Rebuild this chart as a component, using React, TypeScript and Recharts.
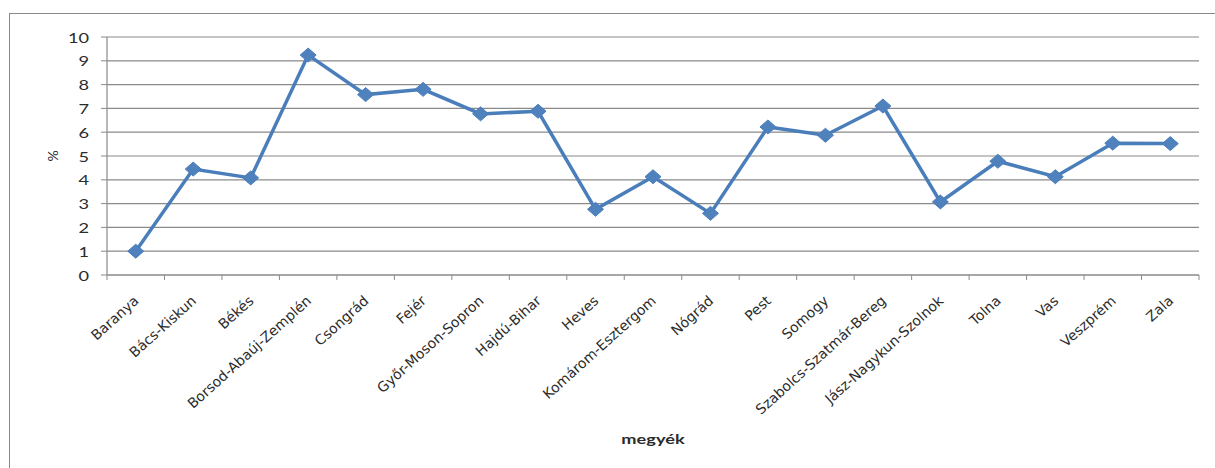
import { LineChart, Line, XAxis, YAxis, CartesianGrid } from 'recharts'

// megyék (counties) and their rate in %
const megyek = [
    'Baranya',
    'Bács-Kiskun',
    'Békés',
    'Borsod-Abaúj-Zemplén',
    'Csongrád',
    'Fejér',
    'Győr-Moson-Sopron',
    'Hajdú-Bihar',
    'Heves',
    'Komárom-Esztergom',
    'Nógrád',
    'Pest',
    'Somogy',
    'Szabolcs-Szatmár-Bereg',
    'Jász-Nagykun-Szolnok',
    'Tolna',
    'Vas',
    'Veszprém',
    'Zala'
]

const arany = [
    1.0, 4.45, 4.08, 9.24, 7.58, 7.8, 6.77, 6.88, 2.76, 4.13,
    2.59, 6.22, 5.87, 7.1, 3.07, 4.78, 4.13, 5.54, 5.52
]

const yTicks = [0, 1, 2, 3, 4, 5, 6, 7, 8, 9, 10]

const data = megyek.map((megye, i) => ({ megye, ertek: arany[i] }))

const WIDTH = 1215
const HEIGHT = 468
const Y_AXIS_W = 107
const X_AXIS_H = 193
const MARGIN = { top: 37, right: 16, bottom: 0, left: 0 }
const BAND = (WIDTH - Y_AXIS_W - MARGIN.right) / megyek.length

const GRAY = '#8a8a8a'
const BLUE = '#4a7ebb'
const TEXT = '#2b2b2b'
const FONT = 'Lato, "Open Sans", sans-serif'
const WIDE_FONT = '"DejaVu Sans", Verdana, sans-serif'
// numbers and titles are drawn slightly wider than tall
const STRETCH = 1.3

function MegyeTick({ x, y, payload, index }: any) {
    const half = BAND / 2
    const last = index === megyek.length - 1
    return (
        <g>
            <line x1={x - half} x2={x - half} y1={y} y2={y + 5} stroke={GRAY} />
            {last && <line x1={x + half} x2={x + half} y1={y} y2={y + 5} stroke={GRAY} />}
            <text
                x={0}
                y={0}
                transform={`translate(${x + 4},${y + 27}) rotate(-42)`}
                textAnchor="end"
                fontFamily={WIDE_FONT}
                fontSize={14}
                fill={TEXT}
            >
                {payload.value}
            </text>
        </g>
    )
}

function ErtekTick({ x, y, payload }: any) {
    return (
        <text
            x={0}
            y={0}
            transform={`translate(${x},${y}) scale(${STRETCH},1)`}
            textAnchor="end"
            dominantBaseline="central"
            fontFamily={FONT}
            fontSize={14}
            fill={TEXT}
        >
            {payload.value}
        </text>
    )
}

function XTitle({ viewBox }: any) {
    const { x, y, width, height } = viewBox
    return (
        <text
            x={0}
            y={0}
            transform={`translate(${x + width / 2},${y + height - 24}) scale(${STRETCH},1)`}
            textAnchor="middle"
            fontFamily={FONT}
            fontWeight={700}
            fontSize={14}
            fill={TEXT}
        >
            megyék
        </text>
    )
}

function YTitle({ viewBox }: any) {
    const { y, height } = viewBox
    return (
        <text
            x={0}
            y={0}
            transform={`translate(52,${y + height / 2}) rotate(-90)`}
            textAnchor="middle"
            dominantBaseline="central"
            fontFamily={FONT}
            fontSize={14}
            fill={TEXT}
        >
            %
        </text>
    )
}

function Diamond({ cx, cy }: any) {
    if (cx == null || cy == null) return null
    return (
        <path
            d={`M${cx},${cy - 7} L${cx + 8},${cy} L${cx},${cy + 7} L${cx - 8},${cy} Z`}
            fill="#4f81bd"
            stroke={BLUE}
            strokeWidth={1}
        />
    )
}

export default function App() {
    return (
        <div
            style={{
                position: 'absolute',
                left: 0,
                top: 0,
                width: WIDTH,
                height: HEIGHT,
                overflow: 'hidden',
                background: '#fff'
            }}
        >
            <div
                style={{
                    position: 'absolute',
                    left: 9,
                    top: 13,
                    width: WIDTH,
                    height: HEIGHT,
                    borderLeft: `1px solid ${GRAY}`,
                    borderTop: `1px solid ${GRAY}`
                }}
            />
            <LineChart
                width={WIDTH}
                height={HEIGHT}
                data={data}
                margin={MARGIN}
                style={{ position: 'absolute', left: 0, top: 0 }}
            >
                <CartesianGrid vertical={false} stroke={GRAY} strokeWidth={1.2} />
                <XAxis
                    dataKey="megye"
                    height={X_AXIS_H}
                    interval={0}
                    padding={{ left: BAND / 2, right: BAND / 2 }}
                    axisLine={{ stroke: GRAY, strokeWidth: 1.2 }}
                    tickLine={false}
                    tickSize={0}
                    tickMargin={0}
                    tick={<MegyeTick />}
                    label={<XTitle />}
                />
                <YAxis
                    width={Y_AXIS_W}
                    domain={[0, 10]}
                    ticks={yTicks}
                    interval={0}
                    axisLine={{ stroke: GRAY, strokeWidth: 1.2 }}
                    tickLine={{ stroke: GRAY }}
                    tickSize={6}
                    tickMargin={12}
                    tick={<ErtekTick />}
                    label={<YTitle />}
                />
                <Line
                    type="linear"
                    dataKey="ertek"
                    stroke={BLUE}
                    strokeWidth={3.5}
                    dot={<Diamond />}
                    activeDot={false}
                    isAnimationActive={false}
                />
            </LineChart>
        </div>
    )
}
